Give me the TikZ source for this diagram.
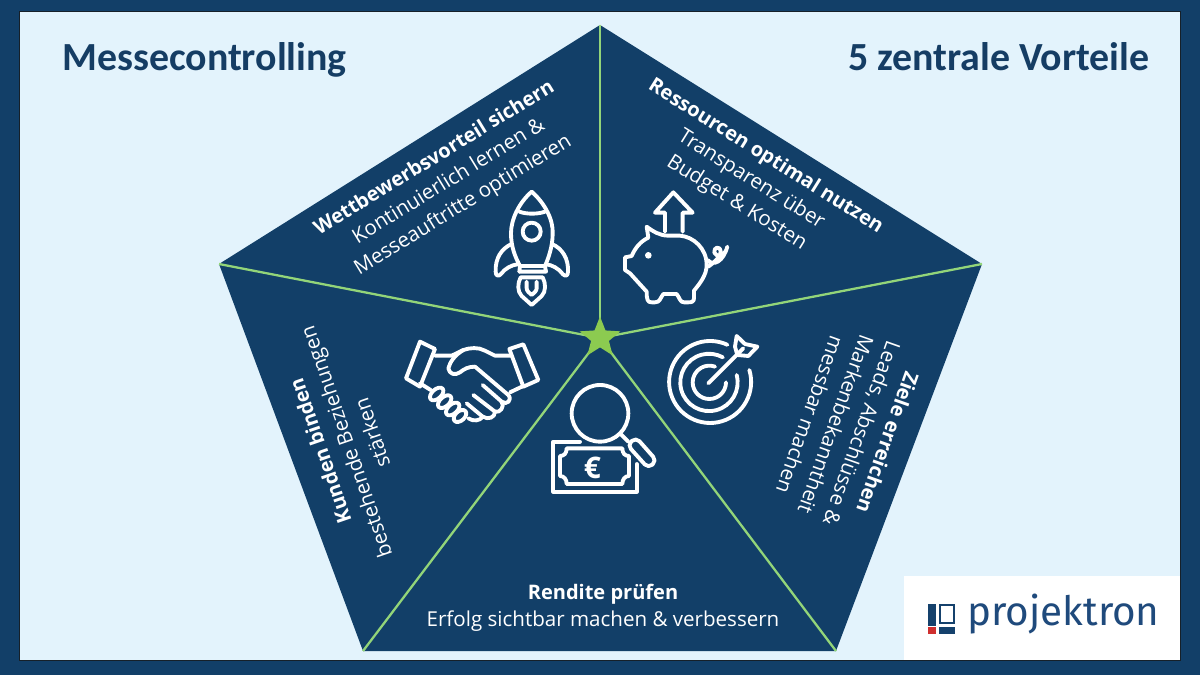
\documentclass[tikz,border=0pt]{standalone}
\usepackage{fontspec}
\setmainfont{Open Sans}
\newfontfamily\titlefont{Carlito}
\newfontfamily\logofont{Fira Sans}
\usetikzlibrary{shapes.geometric}
\definecolor{navy}{HTML}{123F68}
\definecolor{paleblue}{HTML}{E3F3FC}
\definecolor{linegreen}{HTML}{93D579}
\definecolor{stargreen}{HTML}{8CCB50}
\definecolor{titleblue}{HTML}{153D64}
\definecolor{logoblue}{HTML}{1F4A7C}
\definecolor{logored}{HTML}{CF2F2F}
\tikzset{
    maintitle/.style={text=titleblue, font=\titlefont\fontsize{22.7}{28}\selectfont\bfseries, inner sep=0pt},
    sectiontext/.style={text=white, align=center, inner sep=0pt, font=\fontsize{11.7}{15.6}\selectfont},
    spoke/.style={linegreen, line width=1.3pt},
    icon/.style={white, line width=2.2pt, line cap=round, line join=round},
}
\begin{document}
\begin{tikzpicture}[x=0.02cm, y=-0.02cm]
    \useasboundingbox (0,0) rectangle (1200,675);
    \fill[navy] (0,0) rectangle (1200,675);
    \draw[paleblue!10!black!80!navy, line width=0.3pt, fill=paleblue] (19.5,11.5) rectangle (1180,660);

    % pentagon
    \coordinate (ptop) at (600,25);
    \coordinate (pright) at (982,264);
    \coordinate (pbr) at (836,651);
    \coordinate (pbl) at (363,651);
    \coordinate (pleft) at (219,264);
    \fill[navy] (ptop) -- (pright) -- (pbr) -- (pbl) -- (pleft) -- cycle;

    \coordinate (hubc) at (600,338);
    \draw[spoke] (ptop) -- (hubc);
    \draw[spoke] (pright) -- (hubc);
    \draw[spoke] (pbr) -- (hubc);
    \draw[spoke] (pbl) -- (hubc);
    \draw[spoke] (pleft) -- (hubc);
    \node[star, star points=5, star point ratio=2.3, minimum size=43*0.02cm, inner sep=0pt, fill=stargreen] (hub) at (hubc) {};

    % titles
    \node[maintitle, anchor=base west] (title) at (62,71) {Messecontrolling};
    \node[maintitle, anchor=base east] (subtitle) at (1150,71) {5 zentrale Vorteile};

    % sections
    \node[sectiontext, rotate=31.5] (wettbewerb) at (449,182) {\textbf{\fontsize{11.4}{15.6}\selectfont Wettbewerbsvorteil sichern}\\Kontinuierlich lernen \&\\Messeauftritte optimieren};
    \node[sectiontext, rotate=-32] (ressourcen) at (751,180) {\textbf{\fontsize{11.4}{15.6}\selectfont Ressourcen optimal nutzen}\\Transparenz über\\Budget \& Kosten};
    \node[sectiontext, rotate=-109.5] (ziele) at (849,429) {\textbf{\fontsize{11.4}{15.6}\selectfont Ziele erreichen}\\Leads, Abschlüsse \&\\Markenbekanntheit\\messbar machen};
    \node[sectiontext, rotate=109] (kunden) at (346,442) {\textbf{\fontsize{11.4}{15.6}\selectfont Kunden binden}\\bestehende Beziehungen\\stärken};
    \node[sectiontext] (rendite) at (603,608) {\textbf{\fontsize{11.4}{15.6}\selectfont Rendite prüfen}\\Erfolg sichtbar machen \& verbessern};

    % rocket
    \begin{scope}[shift={(480,170)}, scale=1/3]
        \draw[icon] (155,65) .. controls (195,100) and (220,150) .. (218,190) .. controls (218,230) and (205,265) .. (195,288) -- (120,288) .. controls (105,260) and (93,230) .. (93,190) .. controls (93,150) and (115,100) .. (155,65) -- cycle;
        \draw[icon] (118,125) .. controls (140,133) and (172,133) .. (195,125);
        \draw[icon] (118,305) -- (198,305) -- (195,288);
        \draw[icon] (118,305) -- (120,288);
        \draw[icon] (155,185) circle (27);
        \draw[icon] (95,222) .. controls (65,235) and (45,265) .. (47,305) .. controls (47,318) and (55,320) .. (62,313) .. controls (75,295) and (95,285) .. (112,283);
        \draw[icon] (216,222) .. controls (246,235) and (266,265) .. (264,305) .. controls (264,318) and (256,320) .. (249,313) .. controls (236,295) and (216,285) .. (199,283);
        \draw[icon] (122,322) .. controls (112,340) and (112,365) .. (125,378) -- (155,405) -- (185,378) .. controls (198,365) and (198,340) .. (188,322) -- cycle;
        \draw[icon] (140,335) -- (140,355) .. controls (140,362) and (148,370) .. (155,375) .. controls (162,370) and (170,362) .. (170,355) -- (170,335);
    \end{scope}

    % piggy bank
    \begin{scope}[shift={(480,170)}, scale=1/3]
        \draw[icon] (555,185) -- (555,128) -- (525,128) -- (580,67) -- (638,128) -- (608,128) -- (608,185);
        \draw[icon] (500,170) .. controls (520,185) and (540,197) .. (565,197) -- (600,197) .. controls (640,200) and (680,235) .. (680,285) .. controls (680,315) and (660,340) .. (642,362) -- (642,385) .. controls (642,395) and (635,397) .. (625,397) -- (612,397) .. controls (600,397) and (600,385) .. (590,372) -- (550,372) .. controls (540,385) and (540,397) .. (525,397) -- (515,397) .. controls (503,397) and (500,390) .. (500,365) -- (450,310) -- (435,300) -- (435,262) -- (455,258) .. controls (465,235) and (480,215) .. (505,203) -- cycle;
        \fill[white] (505,256) circle (10);
        \draw[icon] (683,270) .. controls (700,290) and (730,275) .. (742,230) .. controls (735,260) and (710,265) .. (703,248) .. controls (700,232) and (720,225) .. (722,245) .. controls (722,260) and (705,275) .. (685,290);
    \end{scope}

    % handshake
    \begin{scope}[shift={(400,335)}, scale=1/3]
        \draw[icon] (60,20) -- (105,42) -- (60,155) -- (18,130) -- cycle;
        \draw[icon] (328,42) -- (370,28) -- (415,135) -- (370,155) -- cycle;
        \draw[icon] (105,62) -- (155,62) -- (190,45) .. controls (210,38) and (235,36) .. (255,47) -- (285,62) -- (335,62);
        \draw[icon] (190,45) .. controls (165,60) and (150,80) .. (145,100) .. controls (148,118) and (165,122) .. (180,112) .. controls (192,102) and (205,95) .. (225,95) -- (325,180) .. controls (338,195) and (320,212) .. (305,200) -- (248,150);
        \draw[icon] (305,200) .. controls (315,215) and (300,235) .. (285,230) -- (220,180);
        \draw[icon] (285,230) .. controls (285,248) and (265,255) .. (248,245) -- (200,205);
        \draw[icon] (248,245) .. controls (240,258) and (220,260) .. (205,250);
        \draw[icon] (372,152) -- (330,172);
        \draw[icon] (60,145) -- (92,165);
        \draw[icon, fill=navy, rotate around={42:(180,243)}] (180,243) ellipse (22 and 14);
        \draw[icon, fill=navy, rotate around={42:(158,222)}] (158,222) ellipse (24 and 14);
        \draw[icon, fill=navy, rotate around={42:(134,200)}] (134,200) ellipse (24 and 14);
        \draw[icon, fill=navy, rotate around={42:(110,177)}] (110,177) ellipse (24 and 14);
    \end{scope}

    % target
    \begin{scope}[shift={(390,320)}, scale=1/3]
        \draw[icon] (1078,150) arc[start angle=-17, end angle=295, radius=123];
        \draw[icon] (1040,165) arc[start angle=-15, end angle=299, radius=86];
        \draw[icon] (1008,187) arc[start angle=0, end angle=290, radius=50];
        \draw[icon] (955,190) -- (1060,85);
        \draw[icon] (1035,80) -- (1040,48) -- (1065,72) -- (1102,80) -- (1075,108) -- (1042,105) -- cycle;
    \end{scope}

    % magnifier with banknote
    \begin{scope}[shift={(390,320)}, scale=1/3]
        \draw[icon] (630,280) circle (85);
        \draw[icon] (690,340) -- (715,365);
        \draw[icon, rounded corners=3pt] (712,375) -- (738,352) -- (800,422) -- (775,445) -- cycle;
        \draw[icon] (570,365) -- (490,365) -- (490,515) -- (740,515) -- (740,432);
        \draw[icon] (530,385) -- (697,385) .. controls (697,400) and (705,408) .. (717,408) -- (717,468) .. controls (705,468) and (697,478) .. (697,492) -- (530,492) .. controls (530,478) and (522,468) .. (510,468) -- (510,408) .. controls (522,408) and (530,400) .. (530,385) -- cycle;
        \node[text=white, inner sep=0pt, font=\fontsize{17}{17}\selectfont\bfseries] (euro) at (607,444) {€};
    \end{scope}

    % logo
    \fill[white] (903.5,575.5) rectangle (1180,660);
    \fill[navy!80!logoblue] (928,604) rectangle (936,626);
    \draw[navy!80!logoblue, line width=1.3pt] (940,605) rectangle (954,623);
    \fill[logored] (928,627) rectangle (936,634);
    \fill[navy!80!logoblue] (939,627) rectangle (955,634);
    \node[text=logoblue, inner sep=0pt, anchor=base west, font=\logofont\fontsize{23}{28}\selectfont] (logo) at (967,625) {projektron};
\end{tikzpicture}
\end{document}
